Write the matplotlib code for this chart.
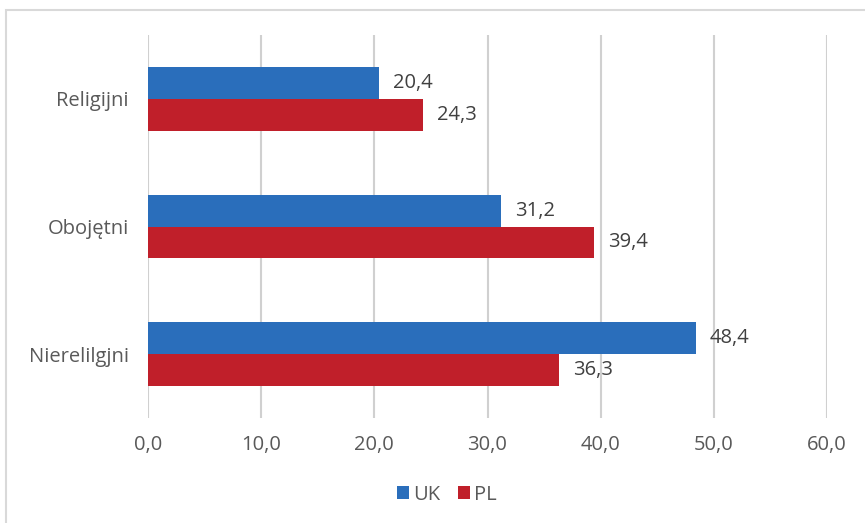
import matplotlib.pyplot as plt
import numpy as np
from matplotlib.patches import Rectangle

categories = ["Religijni", "Obojętni", "Nierelilgjni"]
uk_values = [20.4, 31.2, 48.4]
pl_values = [24.3, 39.4, 36.3]
x_ticks = [0, 10, 20, 30, 40, 50, 60]

blue = "#2a6ebb"
red = "#c01f2a"
text_gray = "#595959"

plt.rcParams['font.family'] = ['Open Sans', 'DejaVu Sans']

fig = plt.figure(figsize=(8.65, 5.23), dpi=100)
ax = fig.add_axes([148 / 865, 1 - 418 / 523, (827 - 148) / 865, (418 - 35) / 523])

# outer chart frame
fig.patches.append(Rectangle((6 / 865, -0.05), 1.1, 1 - 10 / 523 + 0.05,
                             transform=fig.transFigure, fill=False,
                             edgecolor="#d9d9d9", linewidth=1.5))

y = np.arange(len(categories))
h = 0.25
bars_uk = ax.barh(y - h / 2, uk_values, height=h, color=blue, label="UK")
bars_pl = ax.barh(y + h / 2, pl_values, height=h, color=red, label="PL")

for bars, vals in ((bars_uk, uk_values), (bars_pl, pl_values)):
    for b, v in zip(bars, vals):
        ax.annotate(f"{v:.1f}".replace(".", ","),
                    (b.get_width(), b.get_y() + b.get_height() / 2),
                    xytext=(10, 0), textcoords="offset points",
                    va="center", ha="left", fontsize=14.5, color="#404040")

ax.set_xlim(0, 60)
ax.set_ylim(2.5, -0.5)
ax.set_xticks(x_ticks)
ax.set_xticklabels([f"{t:.1f}".replace(".", ",") for t in x_ticks])
ax.set_yticks(y)
ax.set_yticklabels(categories)
ax.tick_params(axis="both", length=0, labelsize=14.5, labelcolor=text_gray)
ax.tick_params(axis="x", pad=12)
ax.tick_params(axis="y", pad=14)

ax.grid(axis="x", color="#d0d0d0", linewidth=1.5)
ax.set_axisbelow(True)
for s in ax.spines.values():
    s.set_visible(False)

leg = ax.legend(loc="center", bbox_to_anchor=(0.44, -0.2), ncol=2,
                frameon=False, fontsize=14.5, handlelength=0.6, handleheight=0.6,
                handletextpad=0.2, columnspacing=0.9, labelcolor=text_gray)

fig.savefig("out.png", dpi=100, facecolor="white")
